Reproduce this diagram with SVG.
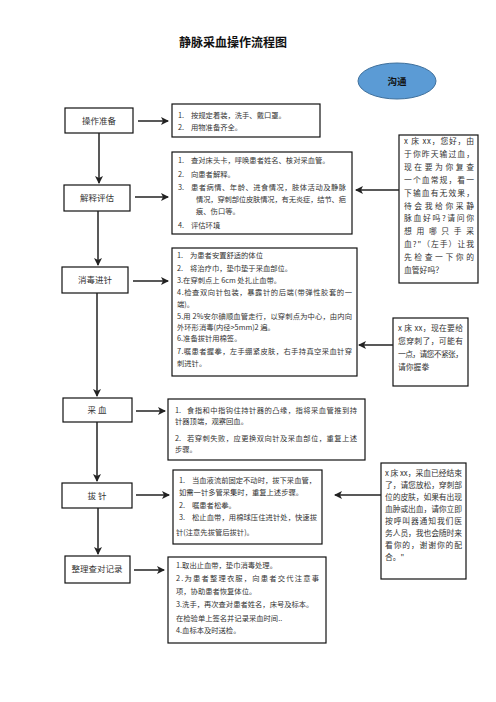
<svg xmlns="http://www.w3.org/2000/svg" width="496" height="702" viewBox="0 0 496 702">
<defs>
<marker id="ah" markerWidth="8" markerHeight="8" refX="7" refY="4" orient="auto" markerUnits="userSpaceOnUse">
<path d="M0,0 L8,4 L0,8 L2,4 Z" fill="#222"/>
</marker>
<style>
.box{fill:#fff;stroke:#111;stroke-width:1.2}
.lbl{font-family:"Noto Sans CJK SC","Noto Sans",sans-serif;font-size:8.5px;fill:#333;text-anchor:middle}
.t{font-family:"Noto Sans CJK SC","Noto Sans",sans-serif;font-size:7.3px;fill:#333}
.r{font-family:"Noto Sans CJK SC","Noto Sans",sans-serif;font-size:7.8px;fill:#333}
.ar{stroke:#222;stroke-width:1.5;fill:none;marker-end:url(#ah)}
</style>
</defs>
<rect width="496" height="702" fill="#fff"/>
<text x="233" y="47" font-family="'Noto Sans CJK SC',sans-serif" font-size="12" font-weight="bold" text-anchor="middle" fill="#111">静脉采血操作流程图</text>

<g id="goutong">
<ellipse cx="397" cy="81" rx="39" ry="18" fill="#5b9bd5" stroke="#41719c" stroke-width="1"/>
<text x="397" y="84.5" font-family="'Noto Sans CJK SC',sans-serif" font-size="9.5" font-weight="bold" text-anchor="middle" fill="#111">沟通</text>
</g>

<g id="step1"><rect class="box" x="65" y="108" width="68" height="25"/><text class="lbl" x="99" y="124">操作准备</text></g>
<g id="step2"><rect class="box" x="64" y="185" width="66" height="26"/><text class="lbl" x="97" y="201">解释评估</text></g>
<g id="step3"><rect class="box" x="62" y="267" width="66" height="26"/><text class="lbl" x="95" y="283">消毒进针</text></g>
<g id="step4"><rect class="box" x="63" y="398" width="69" height="24"/><text class="lbl" x="97" y="413">采  血</text></g>
<g id="step5"><rect class="box" x="62" y="483" width="70" height="25"/><text class="lbl" x="97" y="499">拔  针</text></g>
<g id="step6"><rect class="box" x="65" y="556" width="65" height="27"/><text class="lbl" x="97" y="572">整理查对记录</text></g>

<g id="d1"><rect class="box" x="172" y="104" width="148" height="33"/>
<text class="t" x="178" y="118">1.</text><text class="t" x="191" y="118">按规定着装，洗手、戴口罩。</text>
<text class="t" x="178" y="130">2.</text><text class="t" x="191" y="130">用物准备齐全。</text></g>

<g id="d2"><rect class="box" x="172" y="152" width="180" height="82"/>
<text class="t" x="178" y="163">1.</text><text class="t" x="191" y="163">查对床头卡，呼唤患者姓名、核对采血管。</text>
<text class="t" x="178" y="177">2.</text><text class="t" x="191" y="177">向患者解释。</text>
<text class="t" x="178" y="190">3.</text><text class="t" x="191" y="190" textLength="155">患者病情、年龄、进食情况，肢体活动及静脉</text>
<text class="t" x="196" y="202" textLength="150">情况，穿刺部位皮肤情况，有无炎症，结节、疤</text>
<text class="t" x="196" y="214">痕、伤口等。</text>
<text class="t" x="178" y="228">4.</text><text class="t" x="191" y="228">评估环境</text></g>

<g id="d3"><rect class="box" x="172" y="248" width="185" height="128"/>
<text class="t" x="177" y="258">1.</text><text class="t" x="190" y="258">为患者安置舒适的体位</text>
<text class="t" x="177" y="271">2.</text><text class="t" x="190" y="271">将治疗巾，垫巾垫于采血部位。</text>
<text class="t" x="177" y="283">3.在穿刺点上 6cm 处扎止血带。</text>
<text class="t" x="177" y="295" textLength="175">4.检查双向针包装，暴露针的后端(带弹性胶套的一</text>
<text class="t" x="177" y="307">端)。</text>
<text class="t" x="177" y="319" textLength="175">5.用 2%安尔碘顺血管走行，以穿刺点为中心，由内向</text>
<text class="t" x="177" y="330">外环形消毒(内径&gt;5mm)2 遍。</text>
<text class="t" x="177" y="341">6.准备拔针用棉签。</text>
<text class="t" x="177" y="354" textLength="175">7.嘱患者握拳，左手绷紧皮肤，右手持真空采血针穿</text>
<text class="t" x="177" y="366">刺进针。</text></g>

<g id="d4"><rect class="box" x="168" y="399" width="197" height="61"/>
<text class="t" x="175" y="413">1.</text><text class="t" x="187" y="413" textLength="170">食指和中指钩住持针器的凸缘，指将采血管推到持</text>
<text class="t" x="175" y="424">针器顶端，观察回血。</text>
<text class="t" x="175" y="441">2.</text><text class="t" x="187" y="441" textLength="170">若穿刺失败，应更换双向针及采血部位，重复上述</text>
<text class="t" x="175" y="452">步骤。</text></g>

<g id="d5"><rect class="box" x="173" y="470" width="149" height="74"/>
<text class="t" x="179" y="483">1.</text><text class="t" x="192" y="483">当血液流前固定不动时，拔下采血管，</text>
<text class="t" x="179" y="495">如需一针多管采集时，重复上述步骤。</text>
<text class="t" x="179" y="508">2.</text><text class="t" x="192" y="508">嘱患者松拳。</text>
<text class="t" x="179" y="520">3.</text><text class="t" x="192" y="520" textLength="125">松止血带，用棉球压住进针处，快速拔</text>
<text class="t" x="176" y="535">针(注意先拔管后拔针)。</text></g>

<g id="d6"><rect class="box" x="168" y="557" width="158" height="86"/>
<text class="t" x="176" y="568">1.取出止血带，垫巾消毒处理。</text>
<text class="t" x="176" y="581" textLength="143">2.为患者整理衣服，向患者交代注意事</text>
<text class="t" x="176" y="594">项，协助患者恢复体位。</text>
<text class="t" x="176" y="607">3.洗手，再次查对患者姓名，床号及标本。</text>
<text class="t" x="176" y="621">在检验单上签名并记录采血时间..</text>
<text class="t" x="176" y="633">4.血标本及时送检。</text></g>

<g id="c1"><rect class="box" x="399" y="135" width="79" height="148"/>
<text class="r" x="404" y="144" textLength="70">x 床 xx，您好，由</text>
<text class="r" x="404" y="157" textLength="70">于你昨天输过血，</text>
<text class="r" x="404" y="170" textLength="70">现在要为你复查</text>
<text class="r" x="404" y="183" textLength="70">一个血常规，看一</text>
<text class="r" x="404" y="196" textLength="70">下输血有无效果，</text>
<text class="r" x="404" y="209" textLength="70">待会我给你采静</text>
<text class="r" x="404" y="221" textLength="70">脉血好吗?请问你</text>
<text class="r" x="404" y="234" textLength="70">想用哪只手采</text>
<text class="r" x="404" y="247" textLength="70">血?"（左手）让我</text>
<text class="r" x="404" y="260" textLength="70">先检查一下你的</text>
<text class="r" x="404" y="273">血管好吗？</text></g>

<g id="c2"><rect class="box" x="393" y="318" width="75" height="68"/>
<text class="r" x="398" y="331" textLength="65">x 床 xx，现在要给</text>
<text class="r" x="398" y="344" textLength="65">您穿刺了，可能有</text>
<text class="r" x="398" y="357" textLength="65">一点，请您不紧张，</text>
<text class="r" x="398" y="370">请你握拳</text></g>

<g id="c3"><rect class="box" x="381" y="463" width="85" height="116"/>
<text class="r" x="385" y="476" textLength="77">x 床 xx，采血已经结束</text>
<text class="r" x="385" y="488" textLength="77">了，请您放松，穿刺部</text>
<text class="r" x="385" y="500" textLength="77">位的皮肤，如果有出现</text>
<text class="r" x="385" y="512" textLength="77">血肿或出血，请你立即</text>
<text class="r" x="385" y="524" textLength="77">按呼叫器通知我们医</text>
<text class="r" x="385" y="536" textLength="77">务人员，我也会随时来</text>
<text class="r" x="385" y="548" textLength="77">看你的，谢谢你的配</text>
<text class="r" x="385" y="560">合。"</text></g>

<g id="connectors">
<line class="ar" x1="99" y1="133" x2="99" y2="183"/>
<line class="ar" x1="98" y1="211" x2="98" y2="265"/>
<line class="ar" x1="97" y1="293" x2="97" y2="396"/>
<line class="ar" x1="97" y1="422" x2="97" y2="481"/>
<line class="ar" x1="98" y1="508" x2="98" y2="554"/>
<line class="ar" x1="138" y1="121" x2="168" y2="121"/>
<line class="ar" x1="135" y1="197" x2="168" y2="197"/>
<line class="ar" x1="133" y1="281" x2="168" y2="281"/>
<line class="ar" x1="136" y1="411" x2="165" y2="411"/>
<line class="ar" x1="136" y1="495" x2="169" y2="495"/>
<line class="ar" x1="134" y1="570" x2="164" y2="570"/>
<line class="ar" x1="399" y1="190" x2="356" y2="190"/>
<line class="ar" x1="393" y1="345" x2="359" y2="345"/>
<line class="ar" x1="381" y1="495" x2="335" y2="495"/>
</g>
</svg>
